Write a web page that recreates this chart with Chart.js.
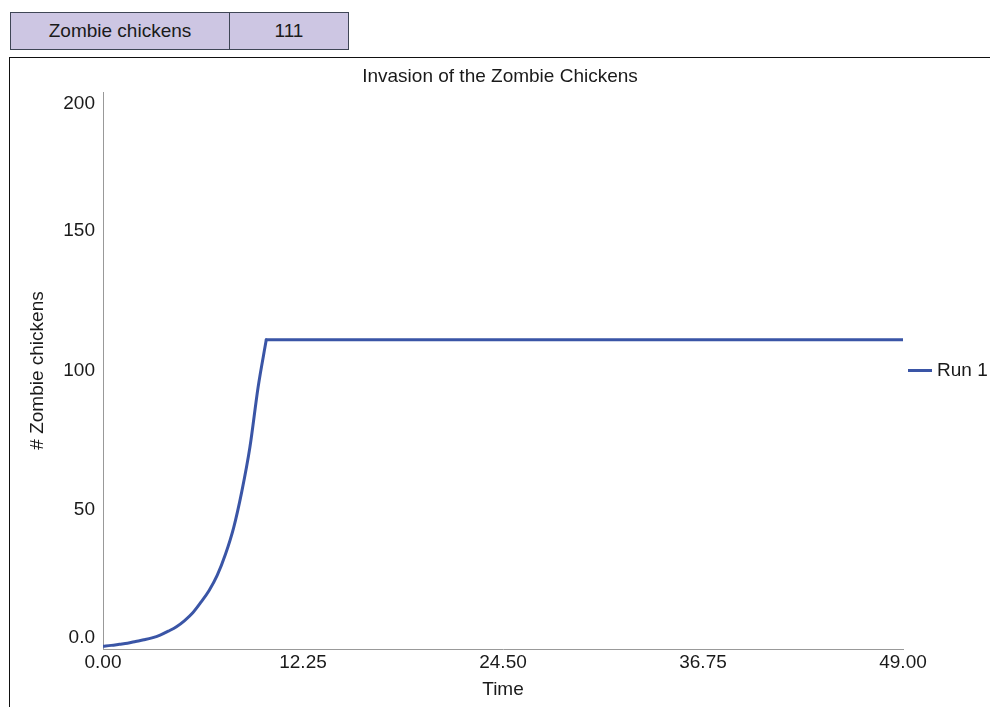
<!DOCTYPE html>
<html>
<head>
<meta charset="utf-8">
<script src="https://cdn.jsdelivr.net/npm/chart.js@4/dist/chart.umd.min.js"></script>
<style>
  html, body { margin: 0; padding: 0; background: #fff; width: 990px; height: 707px; overflow: hidden; font-family: "Liberation Sans", Arial, sans-serif; }
  #tbl { position: absolute; left: 10px; top: 12px; height: 36px; display: flex; border: 1px solid #3f4656; background: #cdc6e3; }
  #tbl div { height: 36px; line-height: 36px; text-align: center; font-size: 19px; color: #1a1a1a; }
  #c1 { width: 218px; border-right: 1px solid #3f4656; }
  #c2 { width: 118px; }
  #box { position: absolute; left: 9px; top: 57px; width: 1000px; height: 700px; border: 1px solid #111; box-sizing: border-box; }
  #wrap { position: absolute; left: 10px; top: 58px; width: 980px; height: 649px; }
</style>
</head>
<body>
<div id="tbl"><div id="c1">Zombie chickens</div><div id="c2">111</div></div>
<div id="box"></div>
<div id="wrap"><canvas id="chart" width="980" height="649"></canvas></div>
<script>
// Data
const riseTimes  = [0, 0.5, 1, 1.5, 2, 2.5, 3, 3.5, 4, 4.5, 5, 5.5, 6, 6.5, 7, 7.5, 8, 8.5, 9, 9.5, 10];
const riseValues = [1.0, 1.3, 1.7, 2.1, 2.7, 3.3, 4.0, 5.0, 6.4, 8.0, 10.2, 13.0, 16.8, 21.0, 26.5, 34.0, 43.5, 56.5, 72.5, 94.0, 111.0];
const flatTimes  = [10, 49];
const flatValues = [111.0, 111.0];
const xTickValues = [0, 12.25, 24.5, 36.75, 49];
const yTickValues = [0, 50, 100, 150, 200];
const yTickLabels = ['0.0', '50', '100', '150', '200'];
const seriesName = 'Run 1';
const chartTitle = 'Invasion of the Zombie Chickens';
const xTitle = 'Time';
const yTitle = '# Zombie chickens';

const risePts = riseTimes.map((t, i) => ({ x: t, y: riseValues[i] }));
const flatPts = flatTimes.map((t, i) => ({ x: t, y: flatValues[i] }));
const FONT = "'Liberation Sans', Arial, sans-serif";
const FS = 19;
const lineColor = '#3a55a6';
const textColor = '#1a1a1a';

// legend marker: a short horizontal line
const marker = document.createElement('canvas');
marker.width = 24; marker.height = 3;
(function () { const c = marker.getContext('2d'); c.fillStyle = lineColor; c.fillRect(0, 0, 24, 3); })();

const legendWidthPlugin = {
  id: 'legendWidth',
  beforeLayout(chart) {
    const lg = chart.legend;
    if (lg && !lg._patched) {
      const orig = lg.fit.bind(lg);
      lg.fit = function () { orig(); this.width = 87; };
      lg._patched = true;
    }
  }
};

new Chart(document.getElementById('chart'), {
  type: 'line',
  data: {
    datasets: [{
      label: seriesName,
      data: risePts,
      borderColor: lineColor,
      backgroundColor: lineColor,
      borderWidth: 3,
      borderCapStyle: 'round',
      pointRadius: 0,
      cubicInterpolationMode: 'monotone',
      fill: false
    }, {
      label: seriesName + ' (cont.)',
      data: flatPts,
      borderColor: lineColor,
      backgroundColor: lineColor,
      borderWidth: 3,
      borderCapStyle: 'round',
      pointRadius: 0,
      tension: 0,
      fill: false
    }]
  },
  plugins: [legendWidthPlugin],
  options: {
    responsive: false,
    animation: false,
    layout: { padding: 0 },
    plugins: {
      title: {
        display: true,
        text: chartTitle,
        color: textColor,
        font: { family: FONT, size: FS, weight: 'normal' },
        padding: { top: 7.6, bottom: 3.6 }
      },
      legend: {
        position: 'right',
        fullSize: false,
        labels: {
          usePointStyle: true,
          pointStyle: marker,
          pointStyleWidth: 15,
          boxWidth: 15,
          padding: 9.5,
          color: textColor,
          font: { family: FONT, size: FS },
          filter: (item) => item.datasetIndex === 0
        }
      },
      tooltip: { enabled: false }
    },
    scales: {
      x: {
        type: 'linear',
        min: 0,
        max: 49,
        grid: { display: false, drawTicks: false },
        border: { display: true, color: '#999', width: 1 },
        afterBuildTicks: (s) => { s.ticks = xTickValues.map(v => ({ value: v })); },
        afterFit: (s) => { s.height = 58; },
        ticks: {
          color: textColor,
          font: { family: FONT, size: FS },
          padding: 2,
          maxRotation: 0,
          autoSkip: false,
          callback: (v) => Number(v).toFixed(2)
        },
        title: {
          display: true,
          text: xTitle,
          color: textColor,
          font: { family: FONT, size: FS },
          padding: { top: 0, bottom: 5.6 }
        }
      },
      y: {
        type: 'linear',
        min: 0,
        max: 200,
        grid: { display: false, drawTicks: false },
        border: { display: true, color: '#999', width: 1 },
        afterBuildTicks: (s) => { s.ticks = yTickValues.map(v => ({ value: v })); },
        afterFit: (s) => { s.width = 93; },
        ticks: {
          color: textColor,
          font: { family: FONT, size: FS },
          padding: 8,
          autoSkip: false,
          callback: (v) => {
            const i = yTickValues.indexOf(v);
            const lbl = i >= 0 ? yTickLabels[i] : '';
            if (i === 0) return [lbl, ''];
            if (i === yTickValues.length - 1) return ['', lbl];
            return lbl;
          }
        },
        title: {
          display: true,
          text: yTitle,
          color: textColor,
          font: { family: FONT, size: FS },
          padding: { top: 16.6, bottom: 0 }
        }
      }
    }
  }
});
</script>
</body>
</html>
